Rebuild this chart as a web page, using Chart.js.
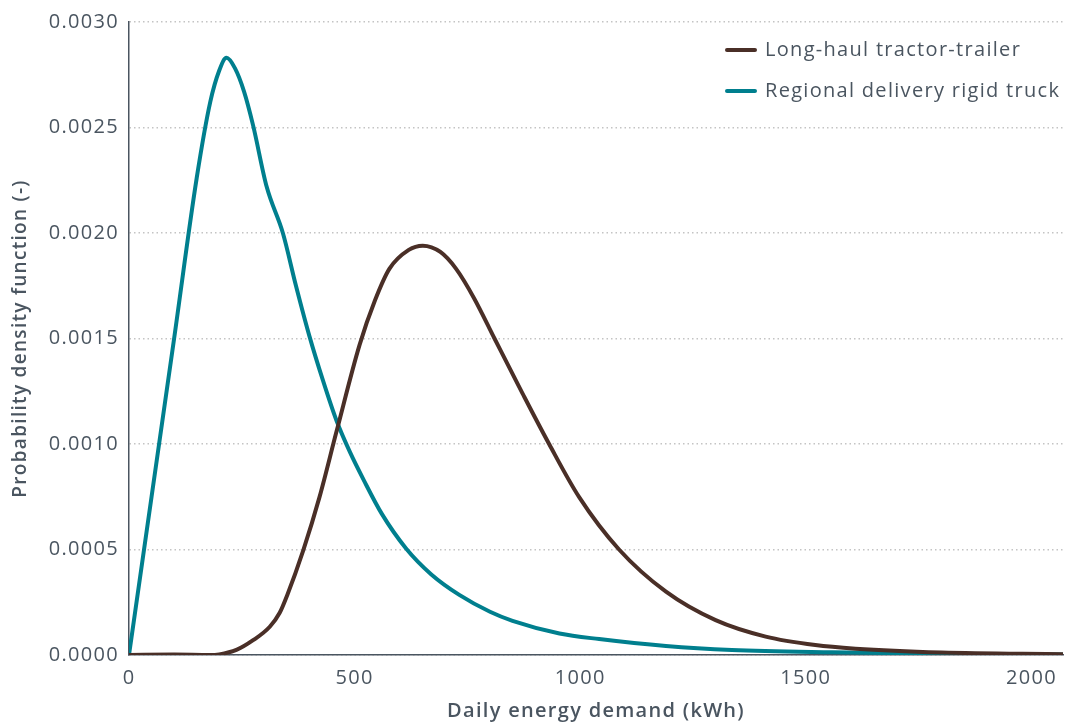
<!DOCTYPE html>
<html>
<head>
<meta charset="utf-8">
<script src="https://cdn.jsdelivr.net/npm/chart.js@4"></script>
<style>
    html, body { margin: 0; padding: 0; background: #fff; }
    #wrap { width: 1068px; height: 724px; }
</style>
</head>
<body>
<div id="wrap"><canvas id="myChart" width="1068" height="724"></canvas></div>
<script>
// Daily energy demand (kWh) and probability density
const longHaulDemand = [0, 100, 179, 200, 238, 275, 312, 334, 350, 386, 422, 460, 511, 545, 577, 620, 651, 690, 725, 765, 810, 872, 931, 998, 1086, 1190, 1300, 1411, 1521, 1610, 1800, 2070];
const longHaulPdf = [0, 0.000002, 0, 0.000003, 0.000024, 0.00007, 0.000134, 0.0002, 0.00028, 0.000495, 0.000747, 0.00106, 0.00147, 0.00168, 0.00183, 0.00192, 0.00194, 0.00191, 0.00183, 0.00169, 0.0015, 0.00124, 0.001, 0.000747, 0.0005, 0.0003, 0.000165, 0.000087, 0.000047, 0.00003, 0.000012, 0.000004];

const regionalDemand = [0, 50, 100, 150, 180, 200, 216, 235, 255, 275, 305, 341, 370, 400, 430, 460, 490, 520, 560, 614, 670, 732, 800, 850, 954, 1042, 1190, 1336, 1558, 1800, 2070];
const regionalPdf = [0, 0.00075, 0.0015, 0.00226, 0.00262, 0.00277, 0.00283, 0.00278, 0.00267, 0.00251, 0.00222, 0.002, 0.00175, 0.00151, 0.0013, 0.00111, 0.00096, 0.00083, 0.00067, 0.000505, 0.000382, 0.000285, 0.000205, 0.000162, 0.000102, 0.0000755, 0.0000425, 0.0000236, 0.0000126, 0.000006, 0.000002];

const seriesLabels = ['Long-haul tractor-trailer', 'Regional delivery rigid truck'];
const xTickValues = [0, 500, 1000, 1500, 2000];
const yTickValues = [0, 0.0005, 0.001, 0.0015, 0.002, 0.0025, 0.003];

const textColor = '#4a5560';
const fontName = '"Open Sans", "Noto Sans", sans-serif';

function toPoints(xs, ys) {
    return xs.map((x, i) => ({ x: x, y: ys[i] }));
}

// wider letter spacing, closer to the original typeface
const spacing = {
    id: 'spacing',
    beforeLayout(chart) { chart.ctx.letterSpacing = '1.3px'; },
    beforeDraw(chart) { chart.ctx.letterSpacing = '1.3px'; }
};

// legend sits inside the plot, top right
const insideLegend = {
    id: 'insideLegend',
    afterDraw(chart) {
        const ctx = chart.ctx;
        ctx.save();
        ctx.font = '20px ' + fontName;
        ctx.textBaseline = 'middle';
        chart.data.datasets.forEach((ds, i) => {
            const y = 50 + i * 41;
            ctx.strokeStyle = ds.borderColor;
            ctx.lineWidth = 4;
            ctx.lineCap = 'round';
            ctx.beginPath();
            ctx.moveTo(727, y);
            ctx.lineTo(755, y);
            ctx.stroke();
            ctx.fillStyle = textColor;
            ctx.fillText(ds.label, 765, y);
        });
        ctx.restore();
    }
};

let chart;

function initializeChart() {
    const ctx = document.getElementById('myChart').getContext('2d');
    chart = new Chart(ctx, {
        type: 'line',
        data: {
            datasets: [{
                label: seriesLabels[0],
                data: toPoints(longHaulDemand, longHaulPdf),
                borderColor: '#4a2f27',
                borderWidth: 4,
                pointRadius: 0,
                cubicInterpolationMode: 'monotone',
                fill: false
            }, {
                label: seriesLabels[1],
                data: toPoints(regionalDemand, regionalPdf),
                borderColor: '#007f8e',
                borderWidth: 4,
                pointRadius: 0,
                cubicInterpolationMode: 'monotone',
                fill: false
            }]
        },
        options: {
            responsive: false,
            animation: false,
            layout: { padding: { left: 0, right: 2, top: 18, bottom: 0 } },
            plugins: {
                legend: { display: false },
                tooltip: { enabled: false }
            },
            scales: {
                x: {
                    type: 'linear',
                    min: 0,
                    max: 2070,
                    afterBuildTicks: scale => {
                        scale.ticks = xTickValues.map(v => ({ value: v }));
                    },
                    afterFit: scale => { scale.height = 69; },
                    grid: { display: false, drawTicks: false },
                    border: { display: true, color: '#4a5560', width: 1.5 },
                    ticks: {
                        color: textColor,
                        font: { family: fontName, size: 20 },
                        padding: 11,
                        maxRotation: 0,
                        callback: v => String(v)
                    },
                    title: {
                        display: true,
                        text: 'Daily energy demand (kWh)',
                        color: textColor,
                        font: { family: fontName, size: 20, weight: '600' },
                        padding: { top: 0, bottom: 1 }
                    }
                },
                y: {
                    min: 0,
                    max: 0.003,
                    afterBuildTicks: scale => {
                        scale.ticks = yTickValues.map(v => ({ value: v }));
                    },
                    afterFit: scale => { scale.width = 129; },
                    grid: {
                        color: '#c4c4c4',
                        lineWidth: 1.5,
                        drawTicks: false
                    },
                    border: { display: true, color: '#4a5560', width: 1.5, dash: [1.5, 3] },
                    ticks: {
                        color: textColor,
                        font: { family: fontName, size: 20 },
                        padding: 10,
                        callback: v => v.toFixed(4)
                    },
                    title: {
                        display: true,
                        text: 'Probability density function (-)',
                        color: textColor,
                        font: { family: fontName, size: 19, weight: '600' },
                        padding: { top: 9, bottom: 0 }
                    }
                }
            }
        },
        plugins: [spacing, insideLegend]
    });
}

document.addEventListener('DOMContentLoaded', () => {
    initializeChart();
});
</script>
</body>
</html>
